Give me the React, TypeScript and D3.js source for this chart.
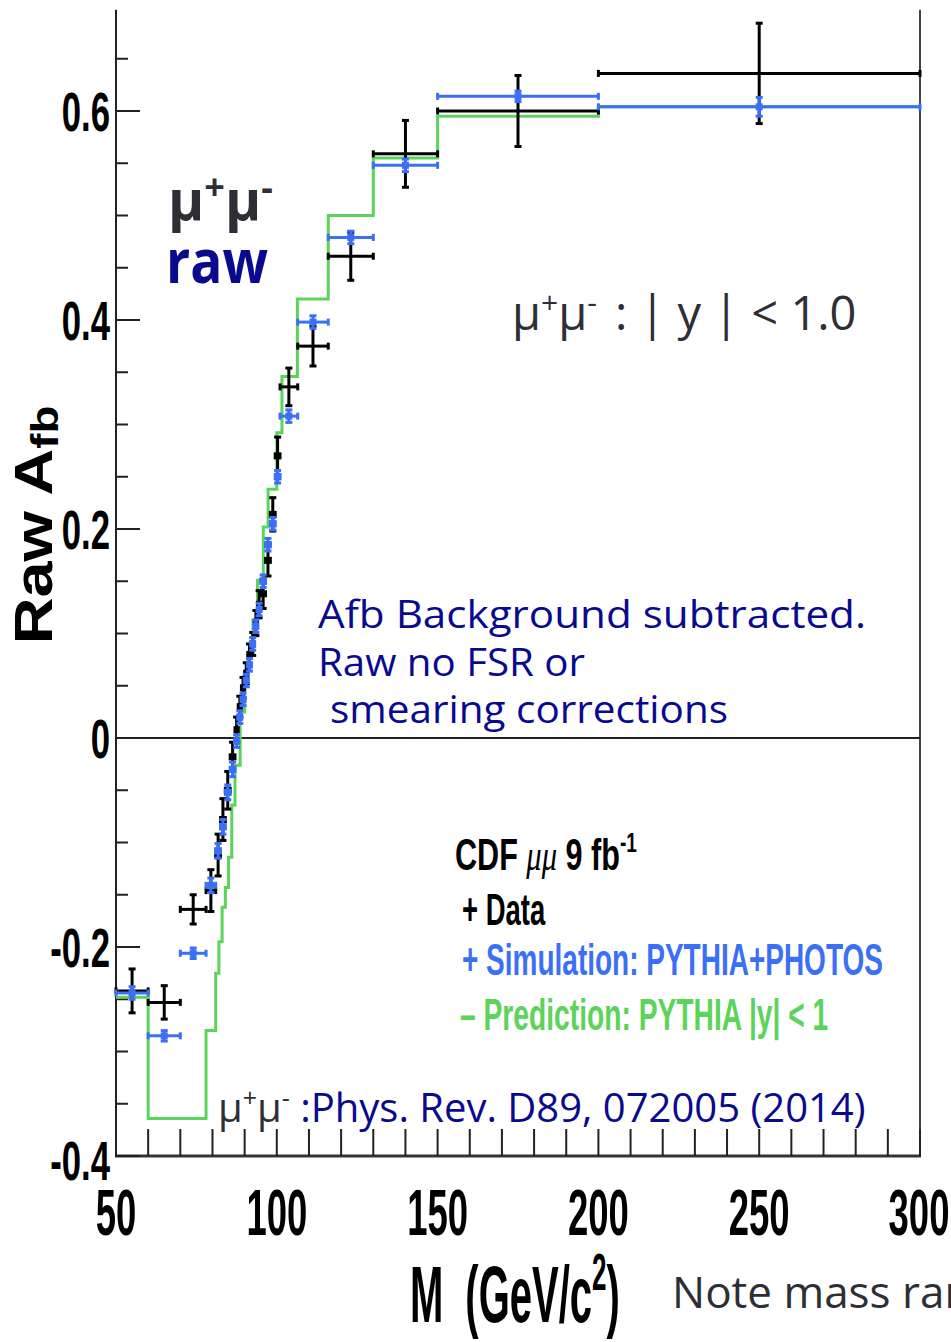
import React from "react";
import * as d3 from "d3";

// ---- data ----
const binEdges = [50, 60, 70, 78, 81, 82.5, 84, 85.5, 87, 88, 89, 90, 91, 92, 93, 94, 95, 96.5, 98, 99.5, 101, 106.5, 116, 130, 150, 200, 300];
const dataAfb = [-0.242, -0.253, -0.164, -0.146, -0.112, -0.078, -0.05, -0.018, 0.008, 0.03, 0.048, 0.062, 0.08, 0.09, 0.11, 0.128, 0.138, 0.17, 0.214, 0.27, 0.336, 0.375, 0.461, 0.559, 0.6, 0.636];
const dataErr = [0.021, 0.016, 0.014, 0.02, 0.02, 0.02, 0.018, 0.014, 0.012, 0.01, 0.01, 0.01, 0.01, 0.011, 0.012, 0.013, 0.014, 0.015, 0.016, 0.018, 0.018, 0.019, 0.023, 0.032, 0.034, 0.048];
const simAfb = [-0.244, -0.285, -0.206, -0.141, -0.108, -0.085, -0.052, -0.03, -0.003, 0.02, 0.037, 0.055, 0.07, 0.09, 0.107, 0.123, 0.15, 0.185, 0.205, 0.25, 0.308, 0.398, 0.479, 0.548, 0.614, 0.604];
const simErr = [0.006, 0.005, 0.005, 0.007, 0.007, 0.007, 0.007, 0.007, 0.006, 0.006, 0.006, 0.006, 0.006, 0.006, 0.006, 0.006, 0.006, 0.006, 0.006, 0.006, 0.006, 0.006, 0.006, 0.006, 0.005, 0.009];

const predEdges = [50, 60, 78, 81, 82, 83, 84, 85, 86, 87, 88.6, 90, 91, 92.6, 94, 95.8, 97.3, 100, 101.6, 106.4, 116, 130, 150, 200, 300];
const predAfb = [-0.248, -0.364, -0.28, -0.225, -0.195, -0.162, -0.143, -0.114, -0.064, -0.026, 0.025, 0.055, 0.081, 0.113, 0.151, 0.202, 0.238, 0.292, 0.346, 0.42, 0.5, 0.555, 0.595, 0.604];

const xTickValues = [50, 100, 150, 200, 250, 300];
const xTickLabels = ["50", "100", "150", "200", "250", "300"];
const yTickValues = [-0.4, -0.2, 0, 0.2, 0.4, 0.6];
const yTickLabels = ["-0.4", "-0.2", "0", "0.2", "0.4", "0.6"];

const W = 951, H = 1342;
const BLACK = "#000";
const BLUE = "#3b6ff5";
const GREEN = "#5cd35a";
const NAVY = "#0a0a8e";
const GRAY = "#2e2e36";
const ROOT_FONT = "'Liberation Sans', Arial, sans-serif";
const GOTHIC = "'Open Sans', 'DejaVu Sans', sans-serif";

export default function App() {
  const x = d3.scaleLinear().domain([50, 300]).range([116, 920]);
  const y = d3.scaleLinear().domain([-0.4, 0.6]).range([1156, 111]);
  const yTopVal = 0.697;

  const bins = dataAfb.map((v, i) => ({
    lo: binEdges[i], hi: binEdges[i + 1], c: (binEdges[i] + binEdges[i + 1]) / 2,
    d: v, de: dataErr[i], s: simAfb[i], se: simErr[i],
  }));

  const predPts: [number, number][] = [];
  predAfb.forEach((v, i) => {
    predPts.push([x(predEdges[i]), y(v)]);
    predPts.push([x(predEdges[i + 1]), y(v)]);
  });
  const predPath = d3.line()(predPts) || "";

  const yMinor = d3.range(0, 22).map((i) => ({ v: -0.4 + i * 0.05, major: i % 4 === 0 }));
  const xMinor = d3.range(0, 26).map((i) => 50 + i * 10);

  const cap = 3.5;

  const errBar = (b: any, key: string, val: number, err: number, color: string, marker: boolean) => {
    const cx = x(b.c), cy = y(val);
    const x0 = x(b.lo), x1 = x(b.hi);
    const yHi = y(val + err), yLo = y(val - err);
    return (
      <g key={key} stroke={color} strokeWidth={3} fill={color}>
        <line x1={x0} x2={x1} y1={cy} y2={cy} />
        <line x1={cx} x2={cx} y1={yHi} y2={yLo} />
        <line x1={x0} x2={x0} y1={cy - cap} y2={cy + cap} />
        <line x1={x1} x2={x1} y1={cy - cap} y2={cy + cap} />
        <line x1={cx - cap} x2={cx + cap} y1={yHi} y2={yHi} />
        <line x1={cx - cap} x2={cx + cap} y1={yLo} y2={yLo} />
        {marker && <rect x={cx - 3.5} y={cy - 3.5} width={7} height={7} stroke="none" />}
      </g>
    );
  };

  return (
    <svg width={W} height={H} style={{ position: "absolute", left: 0, top: 0, background: "#fff" }}>
      <rect x={0} y={0} width={W} height={H} fill="#fff" />
      {/* frame */}
      <line x1={116} x2={116} y1={y(yTopVal)} y2={y(-0.4)} stroke="#222" strokeWidth={2} />
      <line x1={920} x2={920} y1={y(yTopVal)} y2={y(-0.4)} stroke="#444" strokeWidth={2} />
      <line x1={115} x2={921} y1={y(-0.4)} y2={y(-0.4)} stroke="#333" strokeWidth={3} />
      <line x1={116} x2={920} y1={y(0)} y2={y(0)} stroke="#222" strokeWidth={2} />
      {yMinor.map((t, i) => (
        <line key={"yt" + i} x1={116} x2={116 + (t.major ? 24 : 12)} y1={y(t.v)} y2={y(t.v)} stroke="#222" strokeWidth={2} />
      ))}
      {xMinor.map((v, i) => (
        <line key={"xt" + i} x1={x(v)} x2={x(v)} y1={y(-0.4)} y2={y(-0.4) - 27} stroke="#222" strokeWidth={2} />
      ))}
      {/* tick labels */}
      {yTickValues.map((v, i) => (
        <text key={"yl" + i} transform={`translate(110,${y(v) + (v === -0.4 ? 24 : 20)}) scale(0.62,1)`} textAnchor="end"
          fontFamily={ROOT_FONT} fontWeight="bold" fontSize={56} fill="#000">{yTickLabels[i]}</text>
      ))}
      {xTickValues.map((v, i) => (
        <text key={"xl" + i} transform={`translate(${Math.min(x(v), 919)},1235) scale(0.57,1)`} textAnchor="middle"
          fontFamily={ROOT_FONT} fontWeight="bold" fontSize={64} fill="#000">{xTickLabels[i]}</text>
      ))}
      {/* axis titles */}
      <text transform="translate(410,1322) scale(0.5,1)" fontFamily={ROOT_FONT} fontWeight="bold" fontSize={80} fill="#000">
        M<tspan dx={44}>(GeV/c</tspan><tspan dy={-32} fontSize={52}>2</tspan><tspan dy={32}>)</tspan>
      </text>
      <text transform="translate(52,525) rotate(-90) scale(1.2,1)" textAnchor="middle" fontFamily={ROOT_FONT} fontWeight="bold" fontSize={54} fill="#000">
        Raw A<tspan dy={6} fontSize={38}>fb</tspan>
      </text>

      {/* prediction */}
      <path d={predPath} fill="none" stroke={GREEN} strokeWidth={3} />
      {/* data and simulation */}
      {bins.map((b, i) => errBar(b, "d" + i, b.d, b.de, BLACK, false))}
      {bins.map((b, i) => errBar(b, "s" + i, b.s, b.se, BLUE, true))}

      {/* annotations */}
      <text x={168} y={220} fontFamily={GOTHIC} fontWeight="bold" fontSize={55} fill={GRAY}>
        μ<tspan dy={-20} fontSize={36}>+</tspan><tspan dy={20}>μ</tspan><tspan dy={-20} fontSize={36}>-</tspan>
      </text>
      <text x={166} y={283} fontFamily={GOTHIC} fontWeight="bold" fontSize={60} fill={NAVY} textLength={102} lengthAdjust="spacingAndGlyphs">raw</text>
      <text x={512} y={330} fontFamily={GOTHIC} fontSize={47} fill={GRAY}>
        μ<tspan dy={-17} fontSize={30}>+</tspan><tspan dy={17}>μ</tspan><tspan dy={-17} fontSize={30}>-</tspan><tspan dx={18} dy={17}>{": | y | < 1.0"}</tspan>
      </text>
      <text x={318} y={628} fontFamily={GOTHIC} fontSize={38} fill={NAVY} textLength={548} lengthAdjust="spacingAndGlyphs">Afb Background subtracted.</text>
      <text x={318} y={676} fontFamily={GOTHIC} fontSize={38} fill={NAVY} textLength={267} lengthAdjust="spacingAndGlyphs">Raw no FSR or</text>
      <text x={330} y={723} fontFamily={GOTHIC} fontSize={38} fill={NAVY} textLength={398} lengthAdjust="spacingAndGlyphs">smearing corrections</text>

      {/* legend */}
      <text transform="translate(455,870) scale(0.68,1)" fontFamily={ROOT_FONT} fontWeight="bold" fontSize={45} fill="#000">
        CDF <tspan fontFamily="'Liberation Serif', serif" fontStyle="italic" fontWeight="normal">μμ</tspan> 9 fb<tspan dy={-18} fontSize={28}>-1</tspan>
      </text>
      <text transform="translate(462,925) scale(0.61,1)" fontFamily={ROOT_FONT} fontWeight="bold" fontSize={45} fill="#000">+ Data</text>
      <text transform="translate(462,975) scale(0.622,1)" fontFamily={ROOT_FONT} fontWeight="bold" fontSize={45} fill={BLUE}>+ Simulation: PYTHIA+PHOTOS</text>
      <text transform="translate(460,1030) scale(0.627,1)" fontFamily={ROOT_FONT} fontWeight="bold" fontSize={45} fill={GREEN}>– Prediction: PYTHIA |y| &lt; 1</text>

      {/* reference */}
      <text x={218} y={1122} fontFamily={GOTHIC} fontSize={40} fill={GRAY}>
        μ<tspan dy={-15} fontSize={25}>+</tspan><tspan dy={15}>μ</tspan><tspan dy={-15} fontSize={25}>-</tspan><tspan dy={15} fill={NAVY}>{" :Phys. Rev. D89, 072005 (2014)"}</tspan>
      </text>
      <text x={672} y={1308} fontFamily={GOTHIC} fontSize={44} fill={GRAY}>Note mass range</text>
    </svg>
  );
}
